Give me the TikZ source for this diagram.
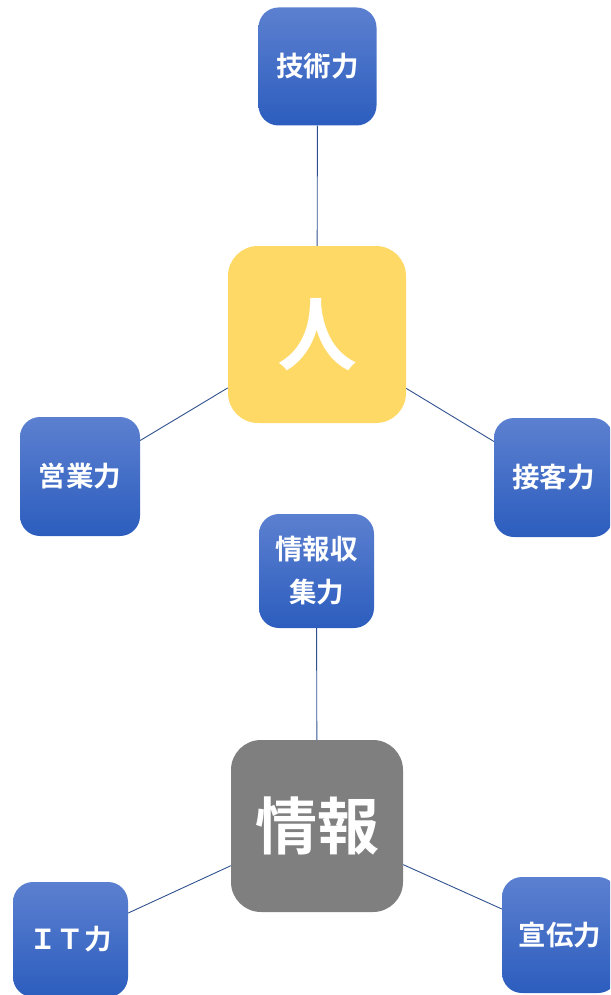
\documentclass[tikz,border=0pt]{standalone}
\usepackage{fontspec}
\setmainfont{Noto Sans CJK JP}[BoldFont={Noto Sans CJK JP Bold}]
\newfontfamily\cjkb{Noto Sans CJK JP Bold}
\definecolor{btop}{RGB}{92,128,208}
\definecolor{bbot}{RGB}{44,93,190}
\definecolor{pyellow}{RGB}{255,217,102}
\definecolor{pgray}{RGB}{127,127,127}
\definecolor{lnblue}{RGB}{47,82,143}
\begin{document}
\begin{tikzpicture}[x=1pt,y=-1pt,
  skill/.style={rounded corners=20pt, top color=btop, bottom color=bbot, draw=none,
    minimum width=118pt, minimum height=118pt, inner sep=0pt, text=white,
    font=\cjkb\fontsize{27.5}{43}\selectfont, align=center},
  core/.style={rounded corners=30pt, draw=none, minimum width=176pt, minimum height=176pt,
    inner sep=0pt, text=white},
  link/.style={draw=lnblue, line width=0.9pt}]
\useasboundingbox (0,0) rectangle (610,995);
\clip (0,0) rectangle (610,995);
\node[skill] (gij) at (317.5,66.5) {技術力};
\node[core, fill=pyellow, minimum width=178pt, minimum height=177pt, font=\cjkb\fontsize{80}{80}\selectfont] (hito) at (317,334.5) {人};
\node[skill, minimum width=120pt, minimum height=119pt] (eig) at (80,476.5) {営業力};
\node[skill, minimum width=119pt, minimum height=119pt] (sek) at (553.5,477.5) {接客力};
\node[skill, minimum width=115pt, minimum height=114pt] (jsy) at (316.5,571) {情報収\\集力};
\node[core, fill=pgray, minimum width=172pt, minimum height=172pt, font=\cjkb\fontsize{62}{62}\selectfont] (joho) at (317,826) {情報};
\node[skill, minimum width=115pt, minimum height=115pt] (itr) at (70.5,939.5) {ＩＴ力};
\node[skill, minimum width=116pt, minimum height=116pt] (sen) at (560,935) {宣伝力};
\draw[link] (gij) -- (hito);
\draw[link] (hito) -- (eig);
\draw[link] (hito) -- (sek);
\draw[link] (jsy) -- (joho);
\draw[link] (joho) -- (itr);
\draw[link] (joho) -- (sen);
\end{tikzpicture}
\end{document}
